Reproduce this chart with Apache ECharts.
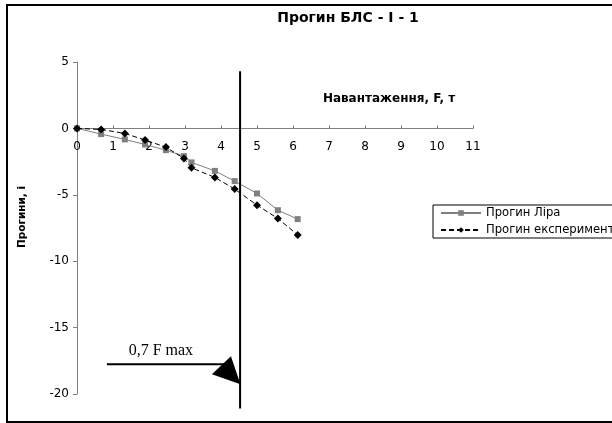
<!DOCTYPE html>
<html><head><meta charset="utf-8">
<script src="https://cdn.jsdelivr.net/npm/echarts@6/dist/echarts.min.js"></script>
<style>html,body{margin:0;padding:0;background:#fff}#c{width:612px;height:423px}</style>
</head><body><div id="c"></div>
<script>
// Data
const loadF    = [0, 0.67, 1.33, 1.89, 2.47, 2.97, 3.18, 3.83, 4.38, 5.00, 5.58, 6.13];
const deflLira = [0, -0.43, -0.83, -1.21, -1.64, -2.09, -2.56, -3.20, -3.97, -4.90, -6.16, -6.83];
const deflExp  = [0, -0.08, -0.38, -0.88, -1.41, -2.26, -2.97, -3.69, -4.57, -5.78, -6.78, -8.02];
const seriesNames = ['Прогин Ліра', 'Прогин експеримент'];
const xMin = 0, xMax = 11, xStep = 1;
const yMin = -20, yMax = 5, yStep = 5;
const fMarkX = 4.53;               // 0,7 F max marker position
const fMarkYTop = 4.3, fMarkYBottom = -21.1;
const arrowStart = [0.83, -17.76];
const arrowTip = [4.54, -19.27];

const W = 612, H = 423;
const gridTop = 62, gridBottom = 29;
const gridH = H - gridTop - gridBottom;
const xAxisOffset = -((0 - yMin) / (yMax - yMin)) * gridH;

const chart = echarts.init(document.getElementById('c'), null, {renderer: 'canvas'});
const sans = '"DejaVu Sans", Arial, sans-serif';

chart.setOption({
  animation: false,
  backgroundColor: '#fff',
  title: {
    text: 'Прогин БЛС - І - 1',
    left: 343, top: 6, textAlign: 'center',
    textStyle: {fontFamily: sans, fontSize: 14, fontWeight: 'bold', color: '#000'}
  },
  legend: {
    orient: 'vertical', left: 433, top: 205,
    padding: [1, 40, 1, 7], itemGap: 3,
    itemWidth: 40, itemHeight: 7,
    borderColor: '#000', borderWidth: 1,
    textStyle: {fontFamily: sans, fontSize: 11.6, color: '#000', lineHeight: 14},
    data: seriesNames
  },
  grid: {left: 77, right: 139, top: gridTop, bottom: gridBottom, containLabel: false},
  xAxis: {
    type: 'value', min: xMin, max: xMax, interval: xStep,
    position: 'bottom', offset: xAxisOffset,
    axisLine: {onZero: false, lineStyle: {color: '#808080', width: 1}},
    axisTick: {inside: true, length: 3, lineStyle: {color: '#808080'}},
    axisLabel: {fontFamily: sans, fontSize: 12, color: '#000', margin: 12},
    splitLine: {show: false}
  },
  yAxis: {
    type: 'value', min: yMin, max: yMax, interval: yStep,
    axisLine: {show: true, onZero: false, lineStyle: {color: '#808080', width: 1}},
    axisTick: {show: true, length: 4, lineStyle: {color: '#808080'}},
    axisLabel: {fontFamily: sans, fontSize: 12, color: '#000', margin: 8},
    splitLine: {show: false}
  },
  series: [
    {
      name: seriesNames[0], type: 'line',
      data: loadF.map((x, i) => [x, deflLira[i]]),
      symbol: 'rect', symbolSize: 6,
      itemStyle: {color: '#808080'},
      lineStyle: {color: '#808080', width: 1}
    },
    {
      name: seriesNames[1], type: 'line',
      data: loadF.map((x, i) => [x, deflExp[i]]),
      symbol: 'diamond', symbolSize: 8,
      itemStyle: {color: '#000'},
      lineStyle: {color: '#000', width: 1, type: [5, 3]}
    }
  ]
});

const p = v => chart.convertToPixel({gridIndex: 0}, v);
const vt = p([fMarkX, fMarkYTop]), vb = p([fMarkX, fMarkYBottom]);
const as = p(arrowStart), at = p(arrowTip);
chart.setOption({
  graphic: [
    {type: 'rect', shape: {x: 7, y: 5, width: 640, height: 417},
     style: {fill: null, stroke: '#000', lineWidth: 2}, silent: true, z: 0},
    {type: 'line', shape: {x1: vt[0], y1: vt[1], x2: vb[0], y2: vb[1]},
     style: {stroke: '#000', lineWidth: 2}, z: 10},
    {type: 'line', shape: {x1: as[0], y1: as[1], x2: at[0] - 14, y2: as[1]},
     style: {stroke: '#000', lineWidth: 2}, z: 10},
    {type: 'polygon', shape: {points: [[at[0], at[1]], [at[0] - 9.5, at[1] - 28], [at[0] - 28.5, at[1] - 10]]},
     style: {fill: '#000'}, z: 10},
    {type: 'text', x: as[0] + 54, y: as[1] - 13,
     style: {text: '0,7 F max', font: '16px "Liberation Serif", "Times New Roman", serif',
             fill: '#000', textAlign: 'center', textVerticalAlign: 'middle'}, z: 10},
    {type: 'text', x: 389, y: 99,
     style: {text: 'Навантаження, F, т', font: 'bold 12px "DejaVu Sans", Arial, sans-serif',
             fill: '#000', textAlign: 'center', textVerticalAlign: 'middle'}, z: 10},
    {type: 'text', x: 22, y: 217, rotation: Math.PI / 2,
     style: {text: 'Прогини, і', font: 'bold 10.5px "DejaVu Sans", Arial, sans-serif',
             fill: '#000', textAlign: 'center', textVerticalAlign: 'middle'}, z: 10}
  ]
});
</script>
</body></html>
